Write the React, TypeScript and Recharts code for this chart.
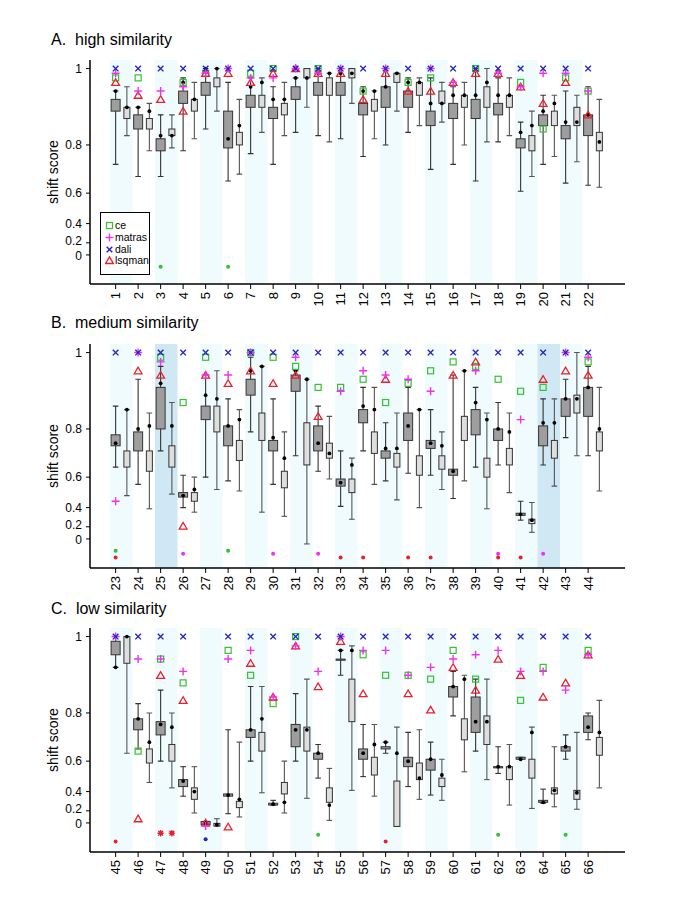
import React from 'react';
import { ComposedChart, Bar, Scatter, XAxis, YAxis, ReferenceArea, Legend } from 'recharts';

// the shift score axis is stretched toward 1: t = (e^(k*v) - 1) / (e^k - 1)
const K = 2.3;
const toAxis = (v: number) => (Math.exp(K * v) - 1) / (Math.exp(K) - 1);
const fromAxis = (t: number) => Math.log(1 + t * (Math.exp(K) - 1)) / K;

const Y_TICKS = [0, 0.2, 0.4, 0.6, 0.8, 1];
const Y_DOMAIN: [number, number] = [-0.156, 1.046];

// [whisker low, q1, q3, whisker high, dot]
type Box = [number, number, number, number, number];
type Maybe = number | null;

// ---- A. high similarity ----
const catsA = [1, 2, 3, 4, 5, 6, 7, 8, 9, 10, 11, 12, 13, 14, 15, 16, 17, 18, 19, 20, 21, 22];
const darkA: Box[] = [
  [0.73, 0.9, 0.93, 0.95, 0.95], [0.68, 0.85, 0.89, 0.91, 0.91], [0.68, 0.78, 0.82, 0.89, 0.83],
  [0.78, 0.92, 0.95, 0.98, 0.97], [0.85, 0.94, 0.97, 1.0, 1.0], [0.66, 0.79, 0.9, 0.97, 0.82],
  [0.77, 0.91, 0.94, 0.98, 0.96], [0.73, 0.88, 0.91, 0.96, 0.93], [0.84, 0.93, 0.96, 0.98, 0.98],
  [0.83, 0.94, 0.97, 1.0, 0.99], [0.82, 0.94, 0.97, 1.0, 0.99], [0.76, 0.89, 0.92, 0.96, 0.95],
  [0.8, 0.91, 0.96, 1.0, 0.96], [0.84, 0.91, 0.95, 0.98, 0.97], [0.71, 0.86, 0.9, 0.98, 0.92],
  [0.73, 0.88, 0.92, 0.96, 0.94], [0.66, 0.88, 0.93, 1.0, 0.94], [0.81, 0.89, 0.92, 0.98, 0.94],
  [0.61, 0.79, 0.82, 0.87, 0.84], [0.73, 0.86, 0.89, 0.94, 0.9], [0.65, 0.82, 0.86, 0.95, 0.87],
  [0.64, 0.83, 0.89, 0.96, 0.89],
];
const lightA: Box[] = [
  [0.83, 0.88, 0.91, 0.96, 0.91], [0.78, 0.85, 0.88, 0.92, 0.9], [0.79, 0.83, 0.85, 0.89, 0.83],
  [0.82, 0.9, 0.93, 0.97, 0.93], [0.9, 0.96, 0.98, 1.0, 1.0], [0.69, 0.8, 0.84, 0.93, 0.86],
  [0.84, 0.91, 0.94, 0.98, 0.97], [0.83, 0.89, 0.92, 0.97, 0.93], [0.91, 0.98, 1.0, 1.0, 0.98],
  [0.81, 0.94, 0.98, 0.99, 0.99], [0.92, 0.98, 1.0, 1.0, 0.99], [0.82, 0.9, 0.93, 0.95, 0.95],
  [0.9, 0.97, 0.99, 0.99, 0.99], [0.86, 0.94, 0.97, 0.98, 0.97], [0.87, 0.92, 0.95, 0.97, 0.92],
  [0.8, 0.91, 0.94, 0.97, 0.94], [0.81, 0.91, 0.96, 1.0, 0.97], [0.83, 0.91, 0.94, 0.98, 0.94],
  [0.68, 0.78, 0.83, 0.9, 0.86], [0.76, 0.86, 0.9, 0.94, 0.92], [0.74, 0.86, 0.91, 0.94, 0.87],
  [0.63, 0.78, 0.84, 0.93, 0.81],
];
const ceA: Maybe[] = [0.98, 0.98, null, 0.97, 0.99, null, 0.99, 1.0, null, 1.0, null, 0.95, null, 0.97, 0.98, null, 1.0, null, 0.97, 0.85, 0.98, 0.95];
const matrasA: Maybe[] = [0.99, 0.95, 0.95, 0.96, 0.99, 1.0, 0.98, 0.98, 1.0, 0.99, 1.0, null, 1.0, null, 1.0, 0.97, null, 0.99, 0.96, 0.99, 0.99, 0.95];
const daliA: Maybe[] = [1, 1, 1, 1, 1, 1, 1, 1, 1, 1, 1, 1, 1, 1, 1, 1, 1, 1, 1, 1, 1, 1];
const lsqmanA: Maybe[] = [0.97, 0.94, 0.93, 0.9, 0.99, 0.99, 0.97, 0.99, 1.0, 0.99, 0.99, 0.93, 0.99, 0.95, 0.95, 0.97, 0.99, 0.99, 0.96, 0.92, 0.97, 0.89];
const failCeA = [3, 6];

// ---- B. medium similarity ----
const catsB = [23, 24, 25, 26, 27, 28, 29, 30, 31, 32, 33, 34, 35, 36, 37, 38, 39, 40, 41, 42, 43, 44];
const darkB: Box[] = [
  [0.65, 0.74, 0.78, 0.87, 0.75], [0.56, 0.72, 0.79, 0.94, 0.8], [0.72, 0.8, 0.92, 0.97, 0.93],
  [0.4, 0.48, 0.51, 0.61, 0.49], [0.6, 0.83, 0.87, 0.95, 0.9], [0.58, 0.74, 0.81, 0.89, 0.81],
  [0.79, 0.9, 0.94, 0.99, 0.96], [0.56, 0.72, 0.76, 0.89, 0.77], [0.7, 0.91, 0.95, 0.96, 0.96],
  [0.63, 0.72, 0.81, 0.87, 0.75], [0.41, 0.55, 0.59, 0.72, 0.57], [0.72, 0.82, 0.86, 0.92, 0.87],
  [0.58, 0.69, 0.72, 0.82, 0.73], [0.62, 0.76, 0.85, 0.92, 0.81], [0.61, 0.73, 0.76, 0.86, 0.75],
  [0.47, 0.61, 0.64, 0.95, 0.63], [0.65, 0.78, 0.86, 0.92, 0.88], [0.66, 0.76, 0.8, 0.88, 0.8],
  [0.28, 0.33, 0.35, 0.45, 0.34], [0.66, 0.74, 0.81, 0.89, 0.82], [0.77, 0.84, 0.89, 0.94, 0.89],
  [0.7, 0.84, 0.92, 0.97, 0.92],
];
const lightB: Box[] = [
  [0.49, 0.65, 0.72, 0.86, 0.86], [0.39, 0.63, 0.72, 0.85, 0.81], [0.5, 0.65, 0.74, 0.88, 0.81],
  [0.36, 0.45, 0.51, 0.6, 0.53], [0.53, 0.79, 0.87, 0.96, 0.89], [0.52, 0.68, 0.76, 0.86, 0.83],
  [0.36, 0.76, 0.85, 0.97, 0.97], [0.32, 0.54, 0.63, 0.79, 0.69], [-0.12, 0.66, 0.82, 0.94, 0.94],
  [0.59, 0.69, 0.75, 0.84, 0.71], [0.29, 0.51, 0.59, 0.69, 0.66], [0.56, 0.71, 0.79, 0.92, 0.86],
  [0.46, 0.65, 0.71, 0.85, 0.73], [0.4, 0.61, 0.7, 0.86, 0.86], [0.53, 0.64, 0.7, 0.79, 0.74],
  [0.58, 0.76, 0.84, 0.96, 0.96], [0.39, 0.6, 0.69, 0.85, 0.83], [0.51, 0.66, 0.73, 0.85, 0.79],
  [0.12, 0.24, 0.29, 0.44, 0.28], [0.55, 0.69, 0.76, 0.89, 0.82], [0.7, 0.85, 0.9, 1.0, 0.89],
  [0.52, 0.72, 0.79, 0.92, 0.8],
];
const ceB: Maybe[] = [null, null, 0.99, 0.88, 0.99, null, 1.0, 0.99, 0.97, 0.92, 0.92, 0.94, 0.88, 0.93, 0.96, 0.98, 0.97, 0.94, 0.91, 0.92, null, 0.98];
const matrasB: Maybe[] = [0.45, 1.0, 0.98, null, 0.95, 0.95, 1.0, null, 0.99, null, 0.91, 0.96, 0.95, 0.94, 0.91, null, 0.96, null, 0.83, null, 1.0, 0.99];
const daliB: Maybe[] = [1, 1, 1, 1, 1, 1, 1, 1, 1, 1, 1, 1, 1, 1, 1, 1, 1, 1, 1, 1, 1, 1];
const lsqmanB: Maybe[] = [null, 0.96, 0.95, 0.21, 0.95, 0.93, 0.96, 0.93, 0.95, 0.84, null, null, 0.94, null, null, 0.95, 0.98, null, null, 0.94, 0.96, 0.95];
const failCeB = [23, 28];
const failMatrasB = [26, 30, 32, 40, 42];
const failLsqmanB = [23, 33, 34, 36, 37, 40, 41];
const highlightB = [25, 42];

// ---- C. low similarity ----
const catsC = [45, 46, 47, 48, 49, 50, 51, 52, 53, 54, 55, 56, 57, 58, 59, 60, 61, 62, 63, 64, 65, 66];
const darkC: Box[] = [
  [0.93, 0.96, 0.99, 1.0, 0.93], [0.66, 0.74, 0.78, 0.83, 0.78], [0.6, 0.72, 0.77, 0.87, 0.76],
  [0.36, 0.44, 0.49, 0.57, 0.48], [-0.04, -0.04, 0.03, 0.03, 0.0], [0.16, 0.36, 0.38, 0.74, 0.37],
  [0.6, 0.71, 0.74, 0.88, 0.74], [0.27, 0.27, 0.29, 0.32, 0.28], [0.6, 0.67, 0.76, 0.86, 0.74],
  [0.5, 0.61, 0.64, 0.68, 0.64], [0.91, 0.95, 0.95, 0.97, 0.97], [0.51, 0.61, 0.66, 0.76, 0.64],
  [0.64, 0.66, 0.67, 0.69, 0.69], [0.44, 0.57, 0.62, 0.73, 0.6], [0.37, 0.55, 0.61, 0.69, 0.61],
  [0.79, 0.85, 0.88, 0.92, 0.88], [0.65, 0.73, 0.85, 0.9, 0.77], [0.53, 0.57, 0.57, 0.67, 0.57],
  [0.61, 0.61, 0.62, 0.62, 0.61], [0.29, 0.3, 0.32, 0.42, 0.3], [0.61, 0.65, 0.67, 0.72, 0.67],
  [0.7, 0.73, 0.79, 0.8, 0.75],
];
const lightC: Box[] = [
  [0.64, 0.94, 1.0, 1.0, 1.0], [0.47, 0.59, 0.66, 0.8, 0.69], [0.43, 0.6, 0.68, 0.8, 0.75],
  [0.17, 0.33, 0.43, 0.57, 0.4], [-0.07, -0.07, -0.01, 0.08, -0.04], [0.11, 0.24, 0.31, 0.69, 0.33],
  [0.39, 0.65, 0.73, 0.88, 0.78], [0.17, 0.38, 0.47, 0.6, 0.3], [0.34, 0.65, 0.75, 0.9, 0.74],
  [0.05, 0.3, 0.43, 0.56, 0.27], [0.41, 0.77, 0.9, 0.98, 0.97], [0.36, 0.52, 0.62, 0.76, 0.68],
  [-0.08, -0.08, 0.48, 0.75, 0.64], [0.33, 0.49, 0.59, 0.74, 0.5], [0.32, 0.44, 0.5, 0.61, 0.52],
  [0.54, 0.7, 0.78, 0.91, 0.9], [0.49, 0.68, 0.79, 0.9, 0.77], [0.27, 0.49, 0.57, 0.68, 0.57],
  [0.23, 0.5, 0.61, 0.75, 0.73], [0.25, 0.38, 0.43, 0.67, 0.41], [0.22, 0.33, 0.41, 0.73, 0.39],
  [0.43, 0.63, 0.71, 0.84, 0.73],
];
const ceC: Maybe[] = [null, 0.65, 0.95, 0.89, null, 0.97, 0.91, 0.83, 1.0, null, null, 0.96, 0.91, 0.91, 0.9, 0.97, 0.9, null, 0.84, 0.93, null, 0.97];
const matrasC: Maybe[] = [1.0, 0.95, 0.95, 0.92, -0.07, 0.95, 0.97, 0.85, 0.98, 0.92, 1.0, 0.97, 0.97, 0.91, 0.93, 0.95, 0.96, 0.97, 0.92, 0.92, 0.87, 0.96];
const daliC: Maybe[] = [1, 1, 1, 1, null, 1, 1, 1, 1, 1, 1, 1, 1, 1, 1, 1, 1, 1, 1, 1, 1, 1];
const lsqmanC: Maybe[] = [null, 0.08, 0.91, 0.84, 0.0, -0.09, 0.94, 0.85, 0.98, 0.88, 0.99, 0.86, null, 0.86, 0.81, 0.93, 0.87, 0.95, 0.91, 0.85, 0.89, 0.96];
const failCeC = [54, 62, 65];
const failDaliC = [49];
const failLsqmanC = [45, 57];
const starDarkC = [47];
const starLightC = [47];

const METHODS = [
  { key: 'ce', color: '#33c233' },
  { key: 'matras', color: '#f030f0' },
  { key: 'dali', color: '#2222c8' },
  { key: 'lsqman', color: '#e8202c' },
];
const COLOR: Record<string, string> = Object.fromEntries(METHODS.map((m) => [m.key, m.color]));
// lanes below zero where failed runs are marked, in axis units
const FAIL_LANE: Record<string, number> = { ce: -0.064, matras: -0.079, dali: -0.087, lsqman: -0.1, star: -0.055 };

const BAND = '#effbfd';
const HIGHLIGHT = '#cfe8f4';
const FONT = '"Liberation Sans", Arial, Helvetica, sans-serif';

function symbol(key: string, cx: number, cy: number) {
  const c = COLOR[key];
  if (key === 'ce') return <rect x={cx - 3} y={cy - 3} width={6} height={6} fill="none" stroke={c} strokeWidth={1.2} />;
  if (key === 'matras')
    return (
      <g stroke={c} strokeWidth={1.4}>
        <line x1={cx - 4} y1={cy} x2={cx + 4} y2={cy} />
        <line x1={cx} y1={cy - 4} x2={cx} y2={cy + 4} />
      </g>
    );
  if (key === 'dali')
    return (
      <g stroke={c} strokeWidth={1.4}>
        <line x1={cx - 2.8} y1={cy - 2.8} x2={cx + 2.8} y2={cy + 2.8} />
        <line x1={cx - 2.8} y1={cy + 2.8} x2={cx + 2.8} y2={cy - 2.8} />
      </g>
    );
  return (
    <polygon
      points={`${cx},${cy - 3.6} ${cx - 3.9},${cy + 3} ${cx + 3.9},${cy + 3}`}
      fill="none"
      stroke={c}
      strokeWidth={1.3}
    />
  );
}

const ok = (...n: any[]) => n.every((v) => typeof v === 'number' && Number.isFinite(v));

const WhiskerShape = (p: any) => {
  const { x, y, width, height, payload } = p;
  if (!ok(x, y, width, height)) return <g />;
  const cx = x + width / 2;
  const top = Math.min(y, y + height);
  const bot = Math.max(y, y + height);
  return (
    <g stroke={payload.dark ? '#333' : '#555'} strokeWidth={1.1}>
      <line x1={cx} y1={top} x2={cx} y2={bot} />
      <line x1={cx - 2.8} y1={top} x2={cx + 2.8} y2={top} />
      <line x1={cx - 2.8} y1={bot} x2={cx + 2.8} y2={bot} />
    </g>
  );
};

const BoxShape = (p: any) => {
  const { x, y, width, height, payload } = p;
  if (!ok(x, y, width, height)) return <g />;
  const cx = x + width / 2;
  const bw = payload.dark ? 9 : 6;
  const top = Math.min(y, y + height);
  const h = Math.max(Math.abs(height), 1.2);
  return (
    <rect
      x={cx - bw / 2}
      y={top}
      width={bw}
      height={h}
      fill={payload.dark ? '#9e9e9e' : '#dedede'}
      stroke="#333"
      strokeWidth={1}
    />
  );
};

const DotShape = (p: any) => (ok(p.cx, p.cy) ? <circle cx={p.cx} cy={p.cy} r={1.9} fill="#000" /> : <g />);

const markerShape = (key: string) => (p: any) =>
  ok(p.cx, p.cy) && p.payload && p.payload[key] != null ? symbol(key, p.cx, p.cy) : <g />;

const failShape = (key: string) => (p: any) => {
  if (!ok(p.cx, p.cy) || !p.payload || p.payload['f_' + key] == null) return <g />;
  if (key === 'star') {
    const c = COLOR.lsqman;
    return (
      <g stroke={c} strokeWidth={1.2}>
        <line x1={p.cx - 3.2} y1={p.cy} x2={p.cx + 3.2} y2={p.cy} />
        <line x1={p.cx} y1={p.cy - 3.2} x2={p.cx} y2={p.cy + 3.2} />
        <line x1={p.cx - 2.4} y1={p.cy - 2.4} x2={p.cx + 2.4} y2={p.cy + 2.4} />
        <line x1={p.cx - 2.4} y1={p.cy + 2.4} x2={p.cx + 2.4} y2={p.cy - 2.4} />
        <circle cx={p.cx} cy={p.cy} r={1.6} fill={c} />
      </g>
    );
  }
  return <circle cx={p.cx} cy={p.cy} r={2} fill={COLOR[key]} />;
};

type PanelDef = {
  cats: number[];
  dark: Box[];
  light: Box[];
  marks: Record<string, Maybe[]>;
  fails: Record<string, number[]>;
  starDark?: number[];
  starLight?: number[];
  highlight?: number[];
};

function buildRows(d: PanelDef) {
  const rows: any[] = [];
  d.cats.forEach((c, i) => {
    (['a', 'b'] as const).forEach((side) => {
      const b = side === 'a' ? d.dark[i] : d.light[i];
      const row: any = {
        slot: `${c}${side}`,
        dark: side === 'a',
        whisker: [toAxis(b[0]), toAxis(b[3])],
        box: [toAxis(b[1]), toAxis(b[2])],
        dot: toAxis(b[4]),
      };
      if (side === 'a') {
        METHODS.forEach(({ key }) => {
          const v = d.marks[key][i];
          row[key] = v == null ? null : toAxis(v);
          if ((d.fails[key] || []).includes(c)) row['f_' + key] = FAIL_LANE[key];
        });
      }
      const stars = side === 'a' ? d.starDark : d.starLight;
      if (stars && stars.includes(c)) row.f_star = FAIL_LANE.star;
      rows.push(row);
    });
  });
  return rows;
}

const CatTick = (p: any) => {
  const { x, y, payload } = p;
  const label = String(payload.value).replace(/[ab]$/, '');
  return (
    <text
      x={x}
      y={y + 1}
      transform={`rotate(-90 ${x} ${y + 1})`}
      textAnchor="end"
      dominantBaseline="central"
      fontSize={13}
      fill="#000"
    >
      {label}
    </text>
  );
};

// y tick labels; the two lowest sit close together so they get nudged apart
const ScoreTick = (p: any) => {
  const { x, y, payload } = p;
  const v = Math.round(fromAxis(payload.value) * 10) / 10;
  const dy = v === 0 ? 1.5 : v === 0.2 ? -1.5 : 0;
  return (
    <text x={x} y={y + dy} textAnchor="end" dominantBaseline="central" fontSize={12} fill="#000">
      {String(v)}
    </text>
  );
};

const ScoreLabel = (p: any) => {
  const vb = p.viewBox || { y: 10, height: 224 };
  const cy = vb.y + vb.height / 2;
  return (
    <text x={53} y={cy} transform={`rotate(-90 53 ${cy})`} textAnchor="middle" dominantBaseline="central" fontSize={14} fill="#000">
      shift score
    </text>
  );
};

const LegendBox = () => (
  <div
    style={{
      width: 50,
      height: 63,
      boxSizing: 'border-box',
      border: '1.3px solid #000',
      background: '#fff',
      padding: '7px 0 0 4px',
      fontFamily: FONT,
      fontSize: 10.5,
      color: '#000',
    }}
  >
    {METHODS.map((m) => (
      <div key={m.key} style={{ display: 'flex', alignItems: 'center', height: 11.7 }}>
        <svg width={9} height={9} style={{ flex: 'none' }}>
          {symbol(m.key, 4.5, 4.5)}
        </svg>
        <span style={{ marginLeft: 1, lineHeight: '11px' }}>{m.key}</span>
      </div>
    ))}
  </div>
);

const PAD = { left: 20, right: 20 };

function Panel({ def, top, legend }: { def: PanelDef; top: number; legend?: boolean }) {
  const rows = buildRows(def);
  const yTicks = Y_TICKS.map(toAxis);
  return (
    <div style={{ position: 'absolute', left: 0, top }}>
      <ComposedChart width={685} height={274} data={rows} margin={{ top: 10, right: 60, bottom: 0, left: 0 }}>
        {def.cats.map((c, i) =>
          i % 2 === 0 && !(def.highlight || []).includes(c) ? (
            <ReferenceArea key={'band' + c} x1={`${c}a`} x2={`${c}b`} fill={BAND} fillOpacity={1} stroke="none" />
          ) : null
        )}
        {(def.highlight || []).map((c) => (
          <ReferenceArea key={'hl' + c} x1={`${c}a`} x2={`${c}b`} fill={HIGHLIGHT} fillOpacity={1} stroke="none" />
        ))}
        <XAxis
          dataKey="slot"
          type="category"
          scale="band"
          padding={PAD}
          interval={1}
          height={40}
          tickSize={5}
          tickLine={{ stroke: '#000' }}
          axisLine={{ stroke: '#000', strokeWidth: 1.5 }}
          tick={<CatTick />}
        />
        <XAxis
          xAxisId="w"
          orientation="top"
          dataKey="slot"
          type="category"
          scale="band"
          padding={PAD}
          height={0}
          tick={false}
          tickLine={false}
          axisLine={{ stroke: '#000', strokeWidth: 1.5 }}
        />
        <XAxis xAxisId="b" dataKey="slot" type="category" scale="band" padding={PAD} hide />
        <YAxis
          type="number"
          domain={Y_DOMAIN}
          allowDataOverflow
          ticks={yTicks}
          interval={0}
          width={90}
          tickSize={4}
          tickMargin={4}
          tickLine={{ stroke: '#000' }}
          axisLine={{ stroke: '#000', strokeWidth: 1.5 }}
          tick={<ScoreTick />}
          label={ScoreLabel}
        />
        <YAxis
          yAxisId="r"
          orientation="right"
          type="number"
          domain={Y_DOMAIN}
          allowDataOverflow
          width={0}
          tick={false}
          tickLine={false}
          axisLine={{ stroke: '#000', strokeWidth: 1.5 }}
        />
        <Bar xAxisId="w" dataKey="whisker" shape={WhiskerShape} isAnimationActive={false} />
        <Bar xAxisId="b" yAxisId="r" dataKey="box" shape={BoxShape} isAnimationActive={false} />
        <Scatter dataKey="dot" shape={DotShape} isAnimationActive={false} />
        {['ce', 'lsqman', 'matras', 'dali'].map((k) => (
          <Scatter key={k} dataKey={k} shape={markerShape(k)} isAnimationActive={false} />
        ))}
        {['ce', 'matras', 'dali', 'lsqman', 'star'].map((k) => (
          <Scatter key={'f' + k} dataKey={'f_' + k} shape={failShape(k)} isAnimationActive={false} />
        ))}
        {legend ? (
          <Legend
            layout="vertical"
            align="center"
            verticalAlign="middle"
            content={() => <LegendBox />}
            wrapperStyle={{ position: 'absolute', left: 100, top: 162, width: 50, height: 63 }}
          />
        ) : null}
      </ComposedChart>
    </div>
  );
}

const panelA: PanelDef = {
  cats: catsA,
  dark: darkA,
  light: lightA,
  marks: { ce: ceA, matras: matrasA, dali: daliA, lsqman: lsqmanA },
  fails: { ce: failCeA },
};
const panelB: PanelDef = {
  cats: catsB,
  dark: darkB,
  light: lightB,
  marks: { ce: ceB, matras: matrasB, dali: daliB, lsqman: lsqmanB },
  fails: { ce: failCeB, matras: failMatrasB, lsqman: failLsqmanB },
  highlight: highlightB,
};
const panelC: PanelDef = {
  cats: catsC,
  dark: darkC,
  light: lightC,
  marks: { ce: ceC, matras: matrasC, dali: daliC, lsqman: lsqmanC },
  fails: { ce: failCeC, dali: failDaliC, lsqman: failLsqmanC },
  starDark: starDarkC,
  starLight: starLightC,
};

const titleStyle: React.CSSProperties = {
  position: 'absolute',
  left: 51,
  fontSize: 16,
  lineHeight: '16px',
  whiteSpace: 'pre',
  color: '#000',
};

export default function App() {
  return (
    <div style={{ position: 'absolute', left: 0, top: 0, width: 685, height: 913, background: '#fff', fontFamily: FONT }}>
      <div style={{ ...titleStyle, top: 31.5 }}>A.  high similarity</div>
      <div style={{ ...titleStyle, top: 314.5 }}>B.  medium similarity</div>
      <div style={{ ...titleStyle, top: 600.5 }}>C.  low similarity</div>
      <Panel def={panelA} top={50} legend />
      <Panel def={panelB} top={334} />
      <Panel def={panelC} top={618} />
    </div>
  );
}
